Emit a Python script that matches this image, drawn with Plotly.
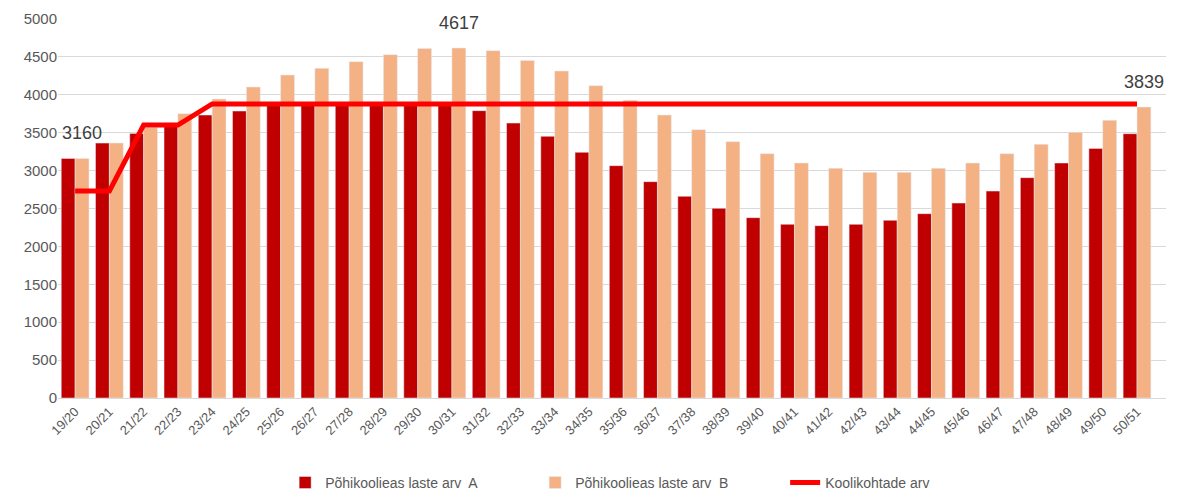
import plotly.graph_objects as go

# õppeaastad
years = ["19/20", "20/21", "21/22", "22/23", "23/24", "24/25", "25/26", "26/27",
         "27/28", "28/29", "29/30", "30/31", "31/32", "32/33", "33/34", "34/35",
         "35/36", "36/37", "37/38", "38/39", "39/40", "40/41", "41/42", "42/43",
         "43/44", "44/45", "45/46", "46/47", "47/48", "48/49", "49/50", "50/51"]

laste_arv_a = [3160, 3363, 3491, 3585, 3733, 3786, 3870, 3880, 3895, 3900, 3900, 3890,
               3791, 3627, 3452, 3241, 3065, 2854, 2660, 2502, 2379, 2291, 2274, 2291,
               2344, 2432, 2572, 2730, 2907, 3100, 3293, 3487]

laste_arv_b = [3160, 3363, 3570, 3751, 3944, 4102, 4260, 4349, 4437, 4529, 4610, 4617,
               4582, 4454, 4313, 4120, 3927, 3733, 3540, 3382, 3223, 3100, 3030, 2977,
               2977, 3030, 3100, 3223, 3346, 3505, 3663, 3839]

koolikohad = [2730, 2730, 3600, 3600, 3880, 3880, 3880, 3880, 3880, 3880, 3880, 3880,
              3880, 3880, 3880, 3880, 3880, 3880, 3880, 3880, 3880, 3880, 3880, 3880,
              3880, 3880, 3880, 3880, 3880, 3880, 3880, 3880]

# which B values get a label
label_idx = [0, 11, 31]

font_family = "Liberation Sans, Arial, sans-serif"
gray = "#595959"

fig = go.Figure()
fig.add_trace(go.Bar(x=years, y=laste_arv_a, name="Põhikoolieas laste arv\u00a0 A",
                     marker_color="#C00000"))
fig.add_trace(go.Bar(x=years, y=laste_arv_b, name="Põhikoolieas laste arv\u00a0 B",
                     marker_color="#F4B183"))
fig.add_trace(go.Scatter(x=years, y=koolikohad, name="Koolikohtade arv", mode="lines",
                         line=dict(color="#FF0000", width=5)))

for i in label_idx:
    fig.add_annotation(x=years[i], y=laste_arv_b[i], text=str(laste_arv_b[i]),
                       showarrow=False, xshift=7, yshift=13, yanchor="bottom",
                       font=dict(size=18, color="#404040", family=font_family))

# page body has an 8px margin, so the figure is a bit smaller than the window
fig.update_layout(
    width=1172, height=484,
    margin=dict(l=50, r=14, t=11, b=94, autoexpand=False),
    paper_bgcolor="white", plot_bgcolor="white",
    barmode="group", bargap=0.19, bargroupgap=0,
    font=dict(family=font_family, size=14, color=gray),
    showlegend=True,
    legend=dict(orientation="h", x=0.205, xanchor="left", y=-0.224, yanchor="middle",
                entrywidth=205, entrywidthmode="pixels",
                font=dict(size=14, color=gray), traceorder="normal"),
)
fig.update_yaxes(range=[0, 5000], dtick=500, showgrid=True, gridcolor="#D9D9D9",
                 gridwidth=1, zeroline=False, ticks="", automargin=False,
                 tickfont=dict(size=15, color=gray))
fig.update_xaxes(tickangle=-45, showline=True, linecolor="#D9D9D9", linewidth=1,
                 ticks="", automargin=False, tickfont=dict(size=13, color=gray))

fig.write_html("out.html")
